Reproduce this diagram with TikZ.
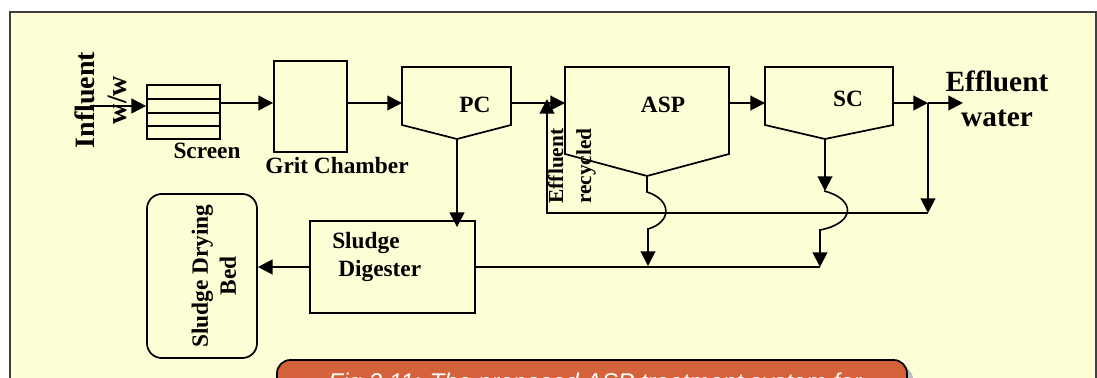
\documentclass[tikz,border=0pt]{standalone}
\usepackage{fontspec}
\setmainfont{Liberation Serif}
\newfontfamily\capfont{Liberation Sans}
\usetikzlibrary{arrows.meta, positioning, calc}

\definecolor{panel}{HTML}{FEFED6}
\definecolor{capred}{HTML}{D4623A}

\begin{document}
\begin{tikzpicture}[x=0.75pt, y=-0.75pt,
    >={Triangle[length=11pt, width=11pt]},
    box/.style={rectangle, draw, line width=1.3pt, inner sep=0pt},
    lbl/.style={font=\bfseries\fontsize{17.5}{21}\selectfont, inner sep=0pt},
    flow/.style={->, line width=1.5pt},
    wave/.style={line width=1.2pt}]

\useasboundingbox (0,0) rectangle (1097,378);
\clip (0,0) rectangle (1097,378);

% panel and caption
\fill[panel] (10,12) rectangle (1096,400);
\draw[line width=0.8pt, black!75] (10,400) -- (10,12) -- (1096,12) -- (1096,400);
\fill[black!25, rounded corners=10] (284,366) rectangle (913,420);
\draw[fill=capred, line width=1.3pt, rounded corners=10] (277,360) rectangle (907,420);
\node[anchor=base west, inner sep=0pt, text=white,
      font=\capfont\itshape\fontsize{18.15}{22}\selectfont] (caption) at (328,390)
      {Fig 3.11: The proposed ASP treatment system for};

% main line level
\coordinate (mainline) at (0,103);

% screen and grit chamber
\node[box, minimum width=54.75pt, minimum height=40.5pt] (screen) at (183.5,112) {};
\foreach \y in {99,113,126}
  \draw[line width=1.3pt] (screen.west |- 0,\y) -- (screen.east |- 0,\y);
\node[box, minimum width=54.75pt, minimum height=68.25pt] (grit) at (310.5,106.5) {};

\node[lbl, anchor=base] (screenlbl) at (207,159) {Screen};
\node[lbl, anchor=base] (gritlbl) at (337,174) {Grit Chamber};
\node[lbl, rotate=90, align=center, font=\bfseries\fontsize{21}{24}\selectfont] (influent) at (101,100) {Influent\\w/w};

% clarifiers and aeration tank
\draw[line width=1.3pt] (402,67) -- (511,67) -- (511,125) -- (457,139) -- (402,125) -- cycle;
\coordinate (pcin) at (402,103); \coordinate (pcout) at (511,103); \coordinate (pcbot) at (457,139);
\node[lbl, anchor=base] (pc) at (475,113) {PC};

\draw[line width=1.3pt] (565,67) -- (729,67) -- (729,154) -- (647,176) -- (565,154) -- cycle;
\coordinate (aspin) at (565,103); \coordinate (aspout) at (729,103); \coordinate (aspbot) at (647,176);
\node[lbl, anchor=base] (asp) at (663,113) {ASP};

\draw[line width=1.3pt] (765,67) -- (893,67) -- (893,125) -- (825,139) -- (765,125) -- cycle;
\coordinate (scin) at (765,103); \coordinate (scout) at (893,103); \coordinate (scbot) at (825,139);
\node[lbl, anchor=base] (sc) at (848,107) {SC};

\coordinate (junction) at (928,103);
\coordinate (effout) at (963,103);
\node[lbl, anchor=north, align=center, font=\bfseries\fontsize{22}{26}\selectfont] (effluent) at (997,71) {Effluent\\water};

% sludge handling
\node[box, minimum width=123.75pt, minimum height=69pt] (digester) at (392.5,267) {};
\node[lbl, anchor=base west, align=left] (digesterlbl) at (332,276) {Sludge\\[0pt]\hspace*{4.5pt}Digester};
\node[box, rounded corners=11pt, minimum width=82.5pt, minimum height=123pt] (bed) at (202,276) {};
\node[lbl, rotate=90, align=center] (bedlbl) at (214,276) {Sludge Drying\\Bed};

\node[lbl, rotate=90, align=center, font=\bfseries\fontsize{16}{21}\selectfont] (recyclbl) at (572,166) {Effluent\\recycled};

% main flow
\coordinate (inflow) at (90,106);
\draw[flow] (inflow) -- (inflow -| screen.west);
\draw[flow] (screen.east |- mainline) -- (grit.west |- mainline);
\draw[flow] (grit.east |- mainline) -- (pcin);
\draw[flow] (pcout) -- (aspin);
\draw[flow] (aspout) -- (scin);
\draw[flow] (scout) -- (junction);
\draw[flow] (junction) -- (effout);

% recycle loop
\coordinate (recR) at (928,213);
\coordinate (recL) at (547,213);
\draw[flow] (junction) -- (recR);
\draw[flow] (recR) -- (recL) -- (547,99);

% sludge lines
\coordinate (sludgeend) at (820,267);
\draw[flow] (pcbot) -- ($(pcbot |- digester.north)+(0,7)$);
\draw[flow] (digester.west) -- (digester.west -| bed.east);
\draw[line width=1.5pt] (digester.east) -- (sludgeend);

\draw[wave] (aspbot) -- (647,192) .. controls (672,200) and (672,222) .. (648,229);
\draw[flow] (648,228) -- (648,266);
\draw[flow] (scbot) -- (825,191);
\draw[wave] (824,191) .. controls (856,199) and (856,223) .. (820,230);
\draw[flow] (820,229) -- (sludgeend);

\end{tikzpicture}
\end{document}
